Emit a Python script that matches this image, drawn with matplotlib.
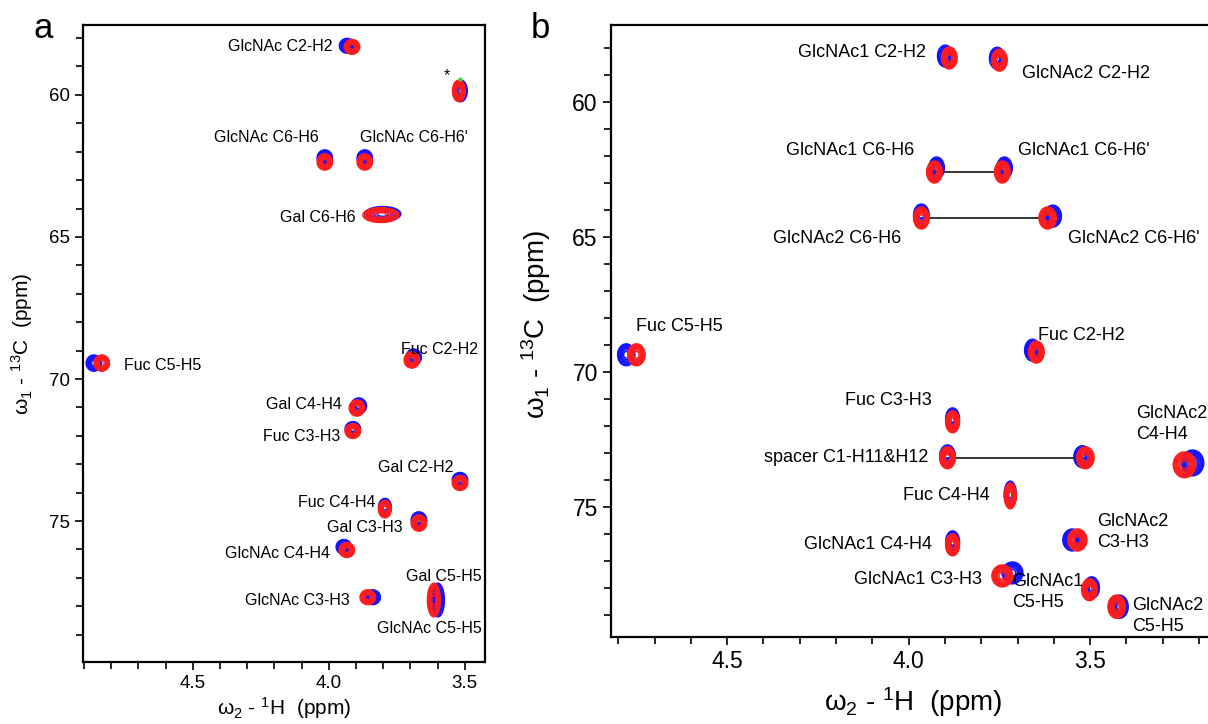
import numpy as np
import matplotlib
matplotlib.use("Agg")
import matplotlib.pyplot as plt

plt.rcParams['font.family'] = ['Liberation Sans', 'DejaVu Sans']
plt.rcParams['mathtext.fontset'] = 'custom'
plt.rcParams['mathtext.rm'] = 'Liberation Sans'
plt.rcParams['mathtext.it'] = 'Liberation Sans:italic'

# ---- panel a: peak centres (1H ppm, 13C ppm), red = spectrum 1, blue = spectrum 2
a_h_red = [3.915, 3.522, 4.015, 3.868, 3.809, 4.835, 3.695, 3.897, 3.912, 3.518,
           3.794, 3.669, 3.934, 3.857, 3.614]
a_c_red = [58.31, 59.86, 62.36, 62.36, 64.23, 69.44, 69.33, 71.02, 71.83, 73.66,
           74.58, 75.07, 76.02, 77.68, 77.78]
a_h_blue = [3.933, 3.515, 4.015, 3.868, 3.802, 4.864, 3.688, 3.890, 3.912, 3.518,
            3.794, 3.669, 3.945, 3.839, 3.599]
a_c_blue = [58.27, 59.86, 62.22, 62.22, 64.19, 69.44, 69.23, 70.95, 71.76, 73.55,
            74.51, 74.96, 75.91, 77.68, 77.78]
# peak widths (ppm)
a_wh = [0.012, 0.010, 0.012, 0.012, 0.028, 0.012, 0.012, 0.012, 0.012, 0.012,
        0.010, 0.012, 0.012, 0.012, 0.010]
a_wc = [0.11, 0.16, 0.12, 0.12, 0.11, 0.12, 0.12, 0.12, 0.11, 0.11,
        0.13, 0.12, 0.11, 0.11, 0.25]
a_labels = ['GlcNAc C2-H2', '*', 'GlcNAc C6-H6', "GlcNAc C6-H6'", 'Gal C6-H6',
            'Fuc C5-H5', 'Fuc C2-H2', 'Gal C4-H4', 'Fuc C3-H3', 'Gal C2-H2',
            'Fuc C4-H4', 'Gal C3-H3', 'GlcNAc C4-H4', 'GlcNAc C3-H3',
            'Gal C5-H5', 'GlcNAc C5-H5']
a_green_h = [3.518]
a_green_c = [59.45]

# ---- panel b
b_h_red = [3.888, 3.750, 3.929, 3.742, 3.965, 3.617, 4.750, 3.648, 3.879, 3.893,
           3.513, 3.720, 3.879, 3.742, 3.535, 3.502, 3.240, 3.427]
b_c_red = [58.38, 58.46, 62.60, 62.60, 64.30, 64.30, 69.36, 69.26, 71.84, 73.17,
           73.17, 74.58, 76.39, 77.54, 76.21, 78.05, 73.43, 78.68]
b_h_blue = [3.899, 3.756, 3.923, 3.736, 3.965, 3.603, 4.778, 3.659, 3.879, 3.893,
            3.521, 3.720, 3.879, 3.714, 3.549, 3.496, 3.218, 3.419]
b_c_blue = [58.31, 58.39, 62.45, 62.45, 64.19, 64.23, 69.36, 69.19, 71.73, 73.10,
            73.13, 74.51, 76.28, 77.43, 76.21, 77.98, 73.36, 78.68]
b_wh = [0.009, 0.009, 0.009, 0.009, 0.009, 0.010, 0.010, 0.009, 0.008, 0.009,
        0.010, 0.007, 0.008, 0.012, 0.011, 0.009, 0.013, 0.010]
b_wc = [0.17, 0.17, 0.17, 0.17, 0.17, 0.17, 0.17, 0.17, 0.17, 0.17,
        0.17, 0.20, 0.17, 0.17, 0.17, 0.17, 0.20, 0.18]
b_labels = ['GlcNAc1 C2-H2', 'GlcNAc2 C2-H2', 'GlcNAc1 C6-H6', "GlcNAc1 C6-H6'",
            'GlcNAc2 C6-H6', "GlcNAc2 C6-H6'", 'Fuc C5-H5', 'Fuc C2-H2',
            'Fuc C3-H3', 'spacer C1-H11&H12', 'Fuc C4-H4', 'GlcNAc1 C4-H4',
            'GlcNAc1 C3-H3', 'GlcNAc2\nC3-H3', 'GlcNAc1\nC5-H5', 'GlcNAc2\nC4-H4',
            'GlcNAc2\nC5-H5']
# pairs of peaks joined by a line (indices into panel b peaks)
b_links = [(2, 3), (4, 5), (9, 10)]

levels = [0.06, 0.09, 0.13, 0.19, 0.27, 0.38, 0.54, 0.76]


def spectrum(X, Y, hs, cs, wh, wc):
    Z = np.zeros_like(X)
    for h, c, sh, sc in zip(hs, cs, wh, wc):
        Z += np.exp(-0.5 * (((X - h) / sh) ** 2 + ((Y - c) / sc) ** 2))
    return Z


def draw_peaks(ax, xlim, ylim, hr, cr, hb, cb, wh, wc, lw):
    x = np.linspace(xlim[1], xlim[0], 1600)
    y = np.linspace(ylim[0], ylim[1], 1300)
    X, Y = np.meshgrid(x, y)
    Zb = spectrum(X, Y, hb, cb, wh, wc)
    Zr = spectrum(X, Y, hr, cr, wh, wc)
    ax.contour(X, Y, Zb, levels=levels, colors='#1414ff', linewidths=lw)
    ax.contour(X, Y, Zr, levels=levels, colors='#ff1c1c', linewidths=lw)


def style_axes(ax, xlim, ylim, fs):
    ax.set_xticks([4.5, 4.0, 3.5])
    ax.set_xticklabels(['4.5', '4.0', '3.5'])
    ax.set_xticks(np.arange(3.2, 4.95, 0.1), minor=True)
    ax.set_yticks([60, 65, 70, 75])
    ax.set_yticks(np.arange(58, 80, 1), minor=True)
    # limits after the ticks, so the tick lists do not widen the view
    ax.set_xlim(*xlim)
    ax.set_ylim(ylim[1], ylim[0])
    ax.tick_params(which='both', direction='out', width=1.2, labelsize=fs)
    ax.tick_params(which='major', length=6)
    ax.tick_params(which='minor', length=5)
    for s in ax.spines.values():
        s.set_linewidth(1.6)


fig = plt.figure(figsize=(12.08, 7.24), dpi=100)

# ---------------- panel a
axa = fig.add_axes([83 / 1208, 62 / 724, 402 / 1208, 637 / 724])
a_xlim = (4.904, 3.426)
a_ylim = (57.54, 79.96)
draw_peaks(axa, a_xlim, a_ylim, a_h_red, a_c_red, a_h_blue, a_c_blue, a_wh, a_wc, 1.0)
axa.scatter(a_green_h, a_green_c, s=4, color='#33dd33', zorder=3)
style_axes(axa, a_xlim, a_ylim, 13.5)

fa = 11.5
a_pos = [(3.985, 58.31, 'right', 'center'), (3.566, 59.33, 'center', 'center'),
         (4.228, 61.51, 'center', 'center'), (3.688, 61.51, 'center', 'center'),
         (3.901, 64.30, 'right', 'center'), (4.754, 69.51, 'left', 'center'),
         (3.592, 68.95, 'center', 'center'), (3.952, 70.88, 'right', 'center'),
         (3.960, 72.04, 'right', 'center'), (3.544, 73.13, 'right', 'center'),
         (3.827, 74.33, 'right', 'center'), (3.728, 75.21, 'right', 'center'),
         (3.996, 76.13, 'right', 'center'), (3.923, 77.78, 'right', 'center'),
         (3.437, 76.94, 'right', 'center'), (3.437, 78.77, 'right', 'center')]
for lab, (x, y, ha, va) in zip(a_labels, a_pos):
    axa.text(x, y, lab, ha=ha, va=va, fontsize=fa)

axa.set_xlabel('ω$_2$ - $^1$H  (ppm)', fontsize=15, labelpad=2)
axa.set_ylabel('ω$_1$ - $^{13}$C  (ppm)', fontsize=15)
axa.yaxis.set_label_coords(-0.119, 0.5)
fig.text(43 / 1208, 1 - 28 / 724, 'a', fontsize=25, ha='center', va='center')

# ---------------- panel b
axb = fig.add_axes([611 / 1208, 87 / 724, 604 / 1208, 612 / 724])
b_xlim = (4.82, 3.156)
b_ylim = (57.16, 79.8)
for i, j in b_links:
    axb.plot([b_h_red[i], b_h_red[j]], [b_c_red[i], b_c_red[j]], color='black', lw=1.1, zorder=1)
draw_peaks(axb, b_xlim, b_ylim, b_h_red, b_c_red, b_h_blue, b_c_blue, b_wh, b_wc, 1.1)
style_axes(axb, b_xlim, b_ylim, 16.5)
axb.spines['right'].set_visible(False)

fb = 13
b_pos = [(3.951, 58.16, 'right'), (3.689, 58.94, 'left'), (3.984, 61.79, 'right'),
         (3.700, 61.79, 'left'), (4.020, 65.04, 'right'), (3.562, 65.04, 'left'),
         (4.752, 68.33, 'left'), (3.645, 68.63, 'left'), (3.937, 71.06, 'right'),
         (3.945, 73.17, 'right'), (3.777, 74.58, 'right'), (3.937, 76.39, 'right'),
         (3.799, 77.68, 'right'), (3.482, 75.91, 'left'), (3.716, 78.12, 'left'),
         (3.372, 71.92, 'left'), (3.383, 79.02, 'left')]
for lab, (x, y, ha) in zip(b_labels, b_pos):
    axb.text(x, y, lab, ha=ha, va='center', fontsize=fb, linespacing=1.3, clip_on=False)

axb.set_xlabel('ω$_2$ - $^1$H  (ppm)', fontsize=20, labelpad=9)
axb.set_ylabel('ω$_1$ - $^{13}$C  (ppm)', fontsize=20)
axb.yaxis.set_label_coords(-0.096, 0.51)
fig.text(540 / 1208, 1 - 28 / 724, 'b', fontsize=25, ha='center', va='center')

fig.savefig('out.png', dpi=100)
